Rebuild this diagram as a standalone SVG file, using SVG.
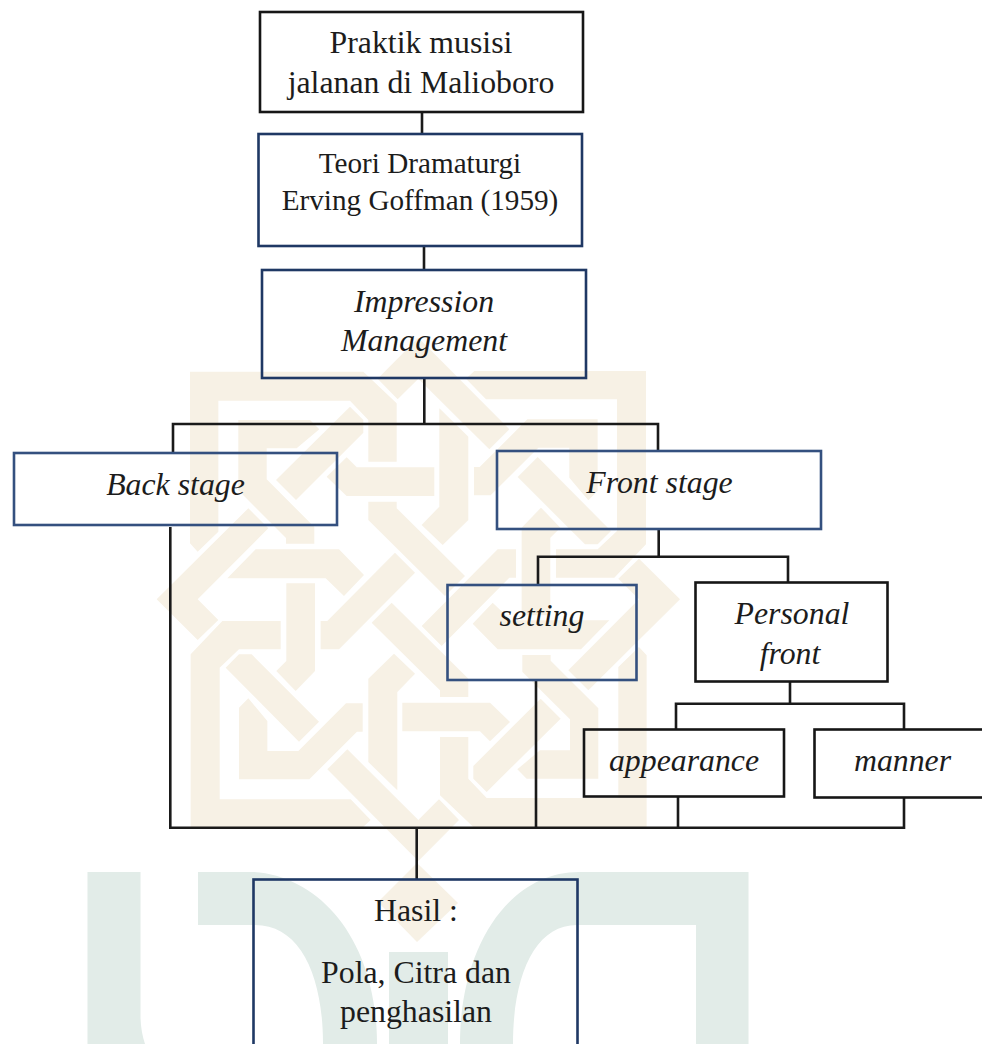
<svg xmlns="http://www.w3.org/2000/svg" width="982" height="1044" viewBox="0 0 982 1044">
<style>
text{font-family:"Liberation Serif","Times New Roman",serif;fill:#1c1c1c;text-anchor:middle}
.l{font-size:31.8px}.m{font-size:29.2px}.i{font-size:31.8px;font-style:italic}
rect{fill:none;stroke-width:2.6}
.k{stroke:#161616}.n{stroke:#1f3864}.b{stroke:#34507f}
#connectors path{fill:none;stroke:#1a1a1a;stroke-width:2.6}
.wm polygon,polygon.wmd{fill:#f7f1e5}
.tl path,.tl rect{fill:#e2ece8;stroke:none}
</style>
<defs>
<g id="wm" class="wm">
<polygon points="120,35 640,35 740,130 740,305 655,305 655,180 600,122 205,122 205,515 143,575 120,550"/>
<polygon points="265,180 480,180 508,208 440,265 350,265 350,358 493,501 493,551 408,551 408,534 265,391"/>
<polygon points="378,360 600,140 640,180 640,218 438,420"/>
<polygon points="805,-67 1078,208 1018,268 805,56 743,118 683,56"/>
<polygon points="868,145 868,440 815,495 878,555 955,480 955,230"/>
<polygon points="530,350 590,292 620,322 853,322 853,408 590,408"/>
<polygon points="655,425 740,425 740,445 945,648 885,708 655,480"/>
</g>
</defs>
<rect width="982" height="1044" style="fill:#fff;stroke:none"/>
<g id="watermark-top" transform="translate(150 360) scale(.33333)">
<use href="#wm"/>
<use href="#wm" transform="rotate(90 805 718)"/>
<use href="#wm" transform="rotate(180 805 718)"/>
<use href="#wm" transform="rotate(270 805 718)"/>
</g>
<g id="watermark-bottom" class="tl">
<path d="M87.500 872H140.500V1018Q141 1032 145 1044H87.500Z"/>
<path d="M198 872H253C320 876 377 940 377 1044H323C323 975 300 925 255 925H198Z"/>
<rect x="389" y="952" width="59" height="92"/>
<path d="M748.500 872H579C510 872 460 945 460 1044H513C513 975 535 925 577 925H696V1044H748.500Z"/>
<polygon class="wmd" points="417,863 458,903 417,942 378,902"/>
</g>
<g id="connectors">
<path d="M422 112V134"/>
<path d="M424 246V270"/>
<path d="M424.300 378V424M173 453V424H658V450"/>
<path d="M658.700 529V556.700M538 584V556.700H788V582"/>
<path d="M790 682V703.700M676 729V703.700H904V729"/>
<path d="M170.300 527V827.700H904V798"/>
<path d="M536 680V827.700"/>
<path d="M678 796V827"/>
<path d="M416.700 828V880"/>
</g>
<g id="n-praktik"><rect class="k" x="260" y="12" width="323" height="100"/>
<text class="l" x="421" y="53">Praktik musisi</text><text class="l" x="421" y="93">jalanan di Malioboro</text></g>
<g id="n-teori"><rect class="n" x="258.500" y="134" width="323.500" height="112"/>
<text class="m" x="420" y="173">Teori Dramaturgi</text><text class="m" x="420" y="209.500">Erving Goffman (1959)</text></g>
<g id="n-impression"><rect class="n" x="262" y="270" width="324" height="108"/>
<text class="i" x="424" y="312">Impression</text><text class="i" x="424" y="350.500">Management</text></g>
<g id="n-back"><rect class="b" x="14" y="453" width="323" height="72"/>
<text class="i" x="175.500" y="494.500">Back stage</text></g>
<g id="n-front"><rect class="b" x="497" y="451" width="324" height="78"/>
<text class="i" x="659.500" y="493">Front stage</text></g>
<g id="n-setting"><rect class="b" x="447.500" y="585" width="189" height="95"/>
<text class="i" x="542" y="626">setting</text></g>
<g id="n-personal"><rect class="k" x="695.500" y="582.500" width="192" height="99"/>
<text class="i" x="792" y="624">Personal</text><text class="i" x="790" y="664">front</text></g>
<g id="n-appearance"><rect class="k" x="584" y="729.500" width="200" height="67"/>
<text class="i" x="684" y="770.500">appearance</text></g>
<g id="n-manner"><rect class="k" x="814.500" y="729.500" width="172" height="68"/>
<text class="i" x="902.500" y="770.500">manner</text></g>
<g id="n-hasil"><rect class="n" x="253.500" y="879.500" width="324" height="180"/>
<text class="l" x="416" y="921">Hasil :</text><text class="l" x="416" y="982.500">Pola, Citra dan</text><text class="l" x="416" y="1021.500">penghasilan</text></g>
</svg>
